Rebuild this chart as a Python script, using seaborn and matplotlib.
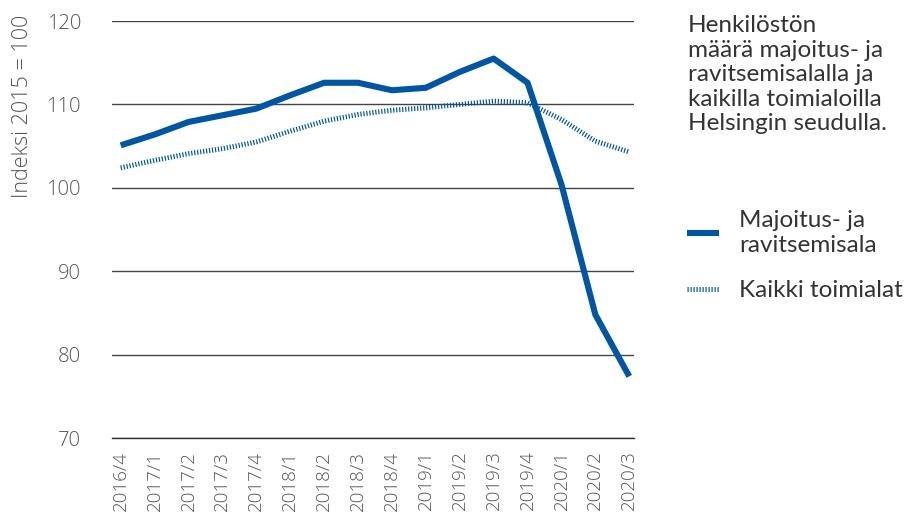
import pandas as pd
import numpy as np
import seaborn as sns
import matplotlib.pyplot as plt

# neljännekset
quarters = ['2016/4', '2017/1', '2017/2', '2017/3', '2017/4', '2018/1', '2018/2', '2018/3',
            '2018/4', '2019/1', '2019/2', '2019/3', '2019/4', '2020/1', '2020/2', '2020/3']
majoitus = [105.1, 106.4, 107.9, 108.7, 109.5, 111.1, 112.6, 112.6,
            111.7, 112.0, 113.9, 115.5, 112.6, 100.4, 84.8, 77.4]
kaikki = [102.4, 103.3, 104.1, 104.7, 105.5, 106.8, 108.0, 108.8,
          109.3, 109.6, 110.0, 110.4, 110.2, 108.2, 105.6, 104.3]
yticks = [70, 80, 90, 100, 110, 120]

name_maj = 'Majoitus- ja\nravitsemisala'
name_all = 'Kaikki toimialat'

df = pd.DataFrame({'q': quarters, name_maj: majoitus, name_all: kaikki})
df['x'] = np.arange(len(quarters))
long = df.melt(id_vars=['q', 'x'], var_name='sarja', value_name='arvo')

sns.set_style('white')
plt.rcParams['font.family'] = ['Open Sans', 'DejaVu Sans']

blue = '#0056a3'
txt = '#333333'

fig = plt.figure(figsize=(9.22, 5.13), dpi=100)
ax = fig.add_axes([0.121, 0.146, 0.567, 0.813])

sns.lineplot(data=long, x='x', y='arvo', hue='sarja', style='sarja',
             palette={name_maj: blue, name_all: blue},
             dashes={name_maj: '', name_all: (0.24, 0.36)},
             ax=ax, legend=False)

lines = ax.get_lines()
lines[0].set_linewidth(4.4)
lines[0].set_solid_capstyle('butt')
lines[0].set_zorder(4)
lines[1].set_linewidth(3.6)
lines[1].set_dash_capstyle('butt')
lines[1].set_zorder(3)

ax.set_xlim(-0.27, 15.15)
ax.set_ylim(70, 120)
ax.set_yticks(yticks)
ax.set_xticks(df['x'])
ax.set_xticklabels(quarters, rotation=90, fontsize=13.5, color='#555555', fontweight='light')
ax.tick_params(axis='y', labelsize=14.5, labelcolor='#555555', length=4, width=0.8, color='#777777', pad=18)
ax.tick_params(axis='x', length=5, width=0.8, color='#555555', pad=4)
for t in ax.get_yticklabels():
    t.set_fontweight('light')

ax.grid(axis='y', color='#444444', linewidth=1.0)
ax.set_axisbelow(True)
for s in ['top', 'right', 'left']:
    ax.spines[s].set_visible(False)
ax.spines['bottom'].set_color('#333333')
ax.spines['bottom'].set_linewidth(1.0)

ax.set_xlabel('')
ax.set_ylabel('Indeksi 2015 = 100', fontsize=15.5, color='#555555', fontweight='light')
ax.yaxis.set_label_coords(-0.151, 0.796)

fig.text(0.746, 0.97, 'Henkilöstön\nmäärä majoitus- ja\nravitsemisalalla ja\nkaikilla toimialoilla\nHelsingin seudulla.',
         fontsize=17.5, color=txt, va='top', ha='left', linespacing=1.2, family=['Lato', 'DejaVu Sans'])

leg = ax.legend(handles=lines, labels=[name_maj, name_all], loc='upper left',
                bbox_to_anchor=(1.059, 0.6), frameon=False,
                handlelength=1.3, handletextpad=0.85, labelspacing=1.0,
                prop={'family': ['Lato', 'DejaVu Sans'], 'size': 17.5})
for t in leg.get_texts():
    t.set_color(txt)
    t.set_linespacing(1.25)

fig.savefig('out.png', dpi=100)
